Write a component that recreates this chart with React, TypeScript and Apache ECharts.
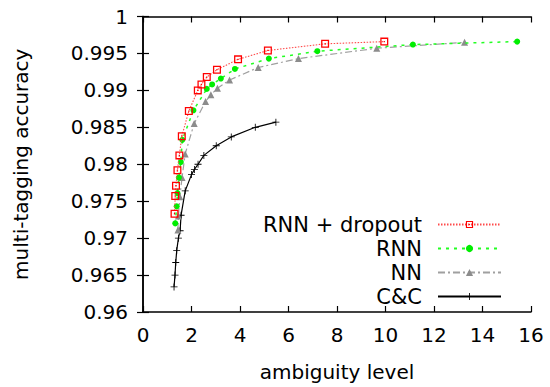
import React, { useEffect, useRef } from "react";
import * as echarts from "echarts";

const seriesNames = ["RNN + dropout", "RNN", "NN", "C&C"];

const xRnnDropout = [1.30, 1.33, 1.36, 1.42, 1.50, 1.60, 1.89, 2.26, 2.41, 2.63, 3.05, 3.92, 5.15, 7.51, 9.95];
const yRnnDropout = [0.9733, 0.9757, 0.9771, 0.9792, 0.9812, 0.9838, 0.9872, 0.9900, 0.9908, 0.9918, 0.9928, 0.9942, 0.9954, 0.9963, 0.9966];

const xRnn = [1.33, 1.39, 1.42, 1.48, 1.56, 1.62, 2.08, 2.63, 2.85, 3.21, 3.79, 5.19, 7.19, 11.13, 15.43];
const yRnn = [0.9720, 0.9743, 0.9761, 0.9782, 0.9803, 0.9833, 0.9873, 0.9902, 0.9908, 0.9916, 0.9929, 0.9943, 0.9953, 0.9962, 0.9966];

const xNn = [1.44, 1.46, 1.52, 1.61, 1.74, 2.11, 2.58, 2.80, 3.07, 3.57, 4.75, 6.41, 9.64, 13.26];
const yNn = [0.9711, 0.9730, 0.9756, 0.9782, 0.9814, 0.9855, 0.9885, 0.9894, 0.9903, 0.9914, 0.9931, 0.9943, 0.9957, 0.9965];

const xCc = [1.28, 1.32, 1.35, 1.39, 1.46, 1.53, 1.57, 1.74, 2.00, 2.12, 2.27, 2.51, 3.02, 3.64, 4.63, 5.48];
const yCc = [0.9634, 0.9650, 0.9667, 0.9683, 0.9700, 0.9710, 0.9731, 0.9764, 0.9786, 0.9793, 0.9800, 0.9812, 0.9825, 0.9837, 0.9850, 0.9857];

const xMin = 0, xMax = 16, xStep = 2;
const yMin = 0.96, yMax = 1, yStep = 0.005;

const zip = (xs: number[], ys: number[]) => xs.map((x, i) => [x, ys[i]]);

const FONT = "DejaVu Sans";

const squareSymbol = "path://M0,0H10V10H0Z M1.6,1.6V8.4H8.4V1.6Z M4.2,4.2H5.8V5.8H4.2Z";
const plusSymbol = "path://M0,4.4H10V5.6H0Z M4.4,0H5.6V10H4.4Z";

export default function App() {
  const ref = useRef<HTMLDivElement>(null);
  useEffect(() => {
    document.body.style.margin = "0";
    if (!ref.current) return;
    const chart = echarts.init(ref.current, undefined, { renderer: "svg" });
    const axisLine = { show: true, lineStyle: { color: "#000", width: 1.5 } };
    const axisTick = { show: true, inside: true, length: 6, lineStyle: { color: "#000", width: 1.2 } };
    chart.setOption({
      animation: false,
      backgroundColor: "#fff",
      grid: { left: 143, right: 19, top: 16.5, bottom: 73.6, containLabel: false },
      xAxis: [
        {
          type: "value", min: xMin, max: xMax, interval: xStep, position: "bottom",
          axisLine, axisTick, splitLine: { show: false },
          axisLabel: { color: "#000", fontSize: 20, fontFamily: FONT, margin: 13 },
          name: "ambiguity level", nameLocation: "middle", nameGap: 50,
          nameTextStyle: { color: "#000", fontSize: 20, fontFamily: FONT },
        },
        {
          type: "value", min: xMin, max: xMax, interval: xStep, position: "top",
          axisLine, axisTick, splitLine: { show: false }, axisLabel: { show: false },
        },
      ],
      yAxis: [
        {
          type: "value", min: yMin, max: yMax, interval: yStep, position: "left",
          axisLine, axisTick, splitLine: { show: false },
          axisLabel: {
            color: "#000", fontSize: 20, fontFamily: FONT, margin: 15,
            formatter: (v: number) => String(parseFloat(v.toFixed(3))),
          },
          name: "multi-tagging accuracy", nameLocation: "middle", nameGap: 112,
          nameTextStyle: { color: "#000", fontSize: 20, fontFamily: FONT },
        },
        {
          type: "value", min: yMin, max: yMax, interval: yStep, position: "right",
          axisLine, axisTick, splitLine: { show: false }, axisLabel: { show: false },
        },
      ],
      legend: {
        orient: "vertical", align: "right", right: 48, top: 214, padding: 0,
        itemWidth: 63, itemHeight: 9, itemGap: 3,
        textStyle: { color: "#000", fontSize: 21, fontFamily: FONT, padding: [0, 11, 0, 0] },
        data: seriesNames,
      },
      series: [
        {
          name: seriesNames[0], type: "line", data: zip(xRnnDropout, yRnnDropout),
          symbol: squareSymbol, symbolSize: 8, z: 5,
          itemStyle: { color: "#ff0000" },
          lineStyle: { color: "#ff4a4a", width: 1.1, type: [1.5, 1.5] },
        },
        {
          name: seriesNames[1], type: "line", data: zip(xRnn, yRnn),
          symbol: "circle", symbolSize: 6, z: 4,
          itemStyle: { color: "#00ee00" },
          lineStyle: { color: "#22ff22", width: 1.5, type: [3, 5] },
        },
        {
          name: seriesNames[2], type: "line", data: zip(xNn, yNn),
          symbol: "triangle", symbolSize: 7, z: 3,
          itemStyle: { color: "#8c8c8c" },
          lineStyle: { color: "#a0a0a0", width: 1.2, type: [7, 3, 2, 3] },
        },
        {
          name: seriesNames[3], type: "line", data: zip(xCc, yCc),
          symbol: plusSymbol, symbolSize: 7, z: 2,
          itemStyle: { color: "#000" },
          lineStyle: { color: "#000", width: 1.2, type: "solid" },
        },
      ],
    });
    return () => chart.dispose();
  }, []);
  return <div ref={ref} style={{ width: 550, height: 387 }} />;
}
